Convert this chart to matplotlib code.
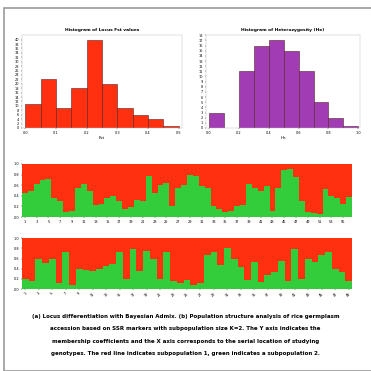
import numpy as np
import matplotlib.pyplot as plt
from matplotlib.patches import Rectangle

# histogram bins (counts)
fst_edges = [0.00, 0.05, 0.10, 0.15, 0.20, 0.25, 0.30, 0.35, 0.40, 0.45, 0.50]
fst_counts = [11, 22, 9, 18, 40, 20, 9, 6, 4, 1]
het_edges = [0.0, 0.1, 0.2, 0.3, 0.4, 0.5, 0.6, 0.7, 0.8, 0.9, 1.0]
het_counts = [3, 0, 11, 16, 17, 15, 11, 5, 2, 0.3]

# membership coefficient of subpopulation 2 (green), rest is subpopulation 1 (red)
green_a = [0.45, 0.50, 0.62, 0.70, 0.72, 0.35, 0.30, 0.10, 0.12, 0.55,
           0.62, 0.50, 0.22, 0.25, 0.35, 0.40, 0.30, 0.15, 0.18, 0.32,
           0.30, 0.78, 0.45, 0.60, 0.65, 0.20, 0.55, 0.60, 0.80, 0.78,
           0.58, 0.55, 0.20, 0.15, 0.10, 0.12, 0.20, 0.22, 0.62, 0.55,
           0.50, 0.58, 0.12, 0.55, 0.88, 0.90, 0.75, 0.30, 0.10, 0.08,
           0.06, 0.52, 0.40, 0.35, 0.25, 0.38]
green_b = [0.20, 0.15, 0.60, 0.52, 0.60, 0.12, 0.72, 0.08, 0.40, 0.38,
           0.36, 0.40, 0.45, 0.50, 0.72, 0.20, 0.78, 0.35, 0.75, 0.60,
           0.20, 0.72, 0.15, 0.12, 0.18, 0.08, 0.12, 0.66, 0.72, 0.48,
           0.80, 0.60, 0.44, 0.18, 0.54, 0.14, 0.28, 0.34, 0.55, 0.15,
           0.78, 0.20, 0.60, 0.54, 0.66, 0.72, 0.40, 0.34, 0.15]

red = '#ff3010'
green = '#33cc3a'
purple = '#a23cb4'

fig = plt.figure(figsize=(3.71, 3.71), dpi=100)
fig.patches.append(Rectangle((0.012, 0.0), 0.99, 0.978, transform=fig.transFigure,
                             fill=False, edgecolor='#999999', lw=1.2))

def hist(ax, edges, counts, color, title, xlab):
    ax.bar(edges[:-1], counts, width=np.diff(edges), align='edge',
           color=color, edgecolor='#552222', lw=0.4)
    ax.set_title(title, fontsize=3.2, fontweight='bold', pad=3)
    ax.set_xlabel(xlab, fontsize=3, labelpad=1)
    ax.tick_params(labelsize=2.5, length=1, width=0.3, pad=1)
    ax.set_xlim(edges[0] - 0.02 * (edges[-1] - edges[0]), edges[-1] + 0.01)
    for s in ax.spines.values():
        s.set_linewidth(0.3)
        s.set_color('#bbbbbb')

ax1 = fig.add_axes([0.06, 0.655, 0.43, 0.25])
hist(ax1, fst_edges, fst_counts, red, 'Histogram of Locus Fst values', 'Fst')
ax1.set_yticks(range(0, 42, 2))

ax2 = fig.add_axes([0.555, 0.655, 0.415, 0.25])
hist(ax2, het_edges, het_counts, purple, 'Histogram of Heterozygosity (He)', 'He')
ax2.set_yticks(range(0, 19, 1))

def structure(ax, g, rot):
    n = len(g)
    x = np.arange(1, n + 1)
    g = np.array(g)
    ax.bar(x, g, width=1.0, color=green, lw=0)
    ax.bar(x, 1 - g, bottom=g, width=1.0, color=red, lw=0)
    ax.set_xlim(0.5, n + 0.5)
    ax.set_ylim(0, 1)
    ax.set_yticks([0, 0.2, 0.4, 0.6, 0.8, 1.0])
    ax.set_xticks(x[::2])
    ax.tick_params(labelsize=2.5, length=1, width=0.3, pad=1)
    ax.tick_params(axis='x', labelrotation=rot)
    for s in ax.spines.values():
        s.set_visible(False)

ax3 = fig.add_axes([0.059, 0.415, 0.89, 0.143])
structure(ax3, green_a, 0)
ax4 = fig.add_axes([0.059, 0.221, 0.89, 0.137])
structure(ax4, green_b, 45)

caption = ("(a) Locus differentiation with Bayesian Admix. (b) Population structure analysis of rice germplasm\n"
           "accession based on SSR markers with subpopulation size K=2. The Y axis indicates the\n"
           "membership coefficients and the X axis corresponds to the serial location of studying\n"
           "genotypes. The red line indicates subpopulation 1, green indicates a subpopulation 2.")
fig.text(0.5, 0.097, caption, ha='center', va='center', fontsize=4.0,
         fontweight='bold', linespacing=2.9)

fig.savefig('out.png', dpi=100)
